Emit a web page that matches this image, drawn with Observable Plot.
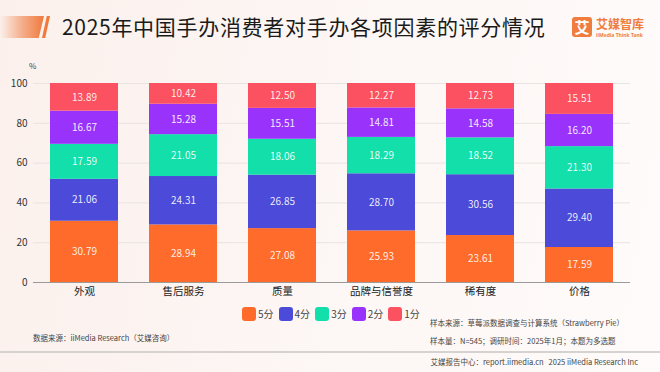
<!DOCTYPE html>
<html>
<head>
<meta charset="utf-8">
<script src="https://cdn.jsdelivr.net/npm/d3@7"></script>
<script src="https://cdn.jsdelivr.net/npm/@observablehq/plot@0.6"></script>
<style>
  html, body { margin: 0; padding: 0; }
  body { width: 660px; height: 372px; overflow: hidden; position: relative;
    font-family: "Noto Sans CJK SC", "Noto Sans", sans-serif;
    background: linear-gradient(100deg, #fbf0ec 0%, #fdf7f5 55%, #fefbfa 100%); }
  .abs { position: absolute; white-space: nowrap; }
  #title { left: 62px; top: 10px; font-size: 21px; font-weight: 400; color: #1a1a1a; line-height: 32px; letter-spacing: 0.7px; }
  #bar1 { left: 0; top: 16px; width: 44px; height: 22px;
    background: linear-gradient(90deg, rgba(240,120,60,0) 0%, rgba(240,120,60,0.55) 50%, #ef7a3c 100%);
    clip-path: polygon(0 0, 100% 0, 88% 100%, 0 100%); }
  #bar2 { left: 42px; top: 16px; width: 8px; height: 22px; background: #ef7a3c;
    clip-path: polygon(60% 0, 100% 0, 40% 100%, 0 100%); }
  #logo { left: 572px; top: 17px; width: 20px; height: 20px; background: #f07d3e; border-radius: 3px;
    color: #fff; font-size: 15px; font-weight: 700; line-height: 20px; text-align: center; }
  #logoT { left: 596px; top: 16px; font-size: 12px; font-weight: 700; color: #f07d3e; line-height: 16px; }
  #logoS { left: 596px; top: 32px; font-size: 5px; color: #f07d3e; line-height: 6px; font-family: "Noto Sans", sans-serif; font-weight: 700; }
  #pct { left: 29px; top: 60px; font-size: 8px; color: #444; }
  #legend { left: 242px; top: 306px; display: flex; gap: 0; font-size: 10px; color: #444; }
  .li { display: flex; align-items: center; margin-right: 5px; }
  .sw { width: 14px; height: 14px; border-radius: 3px; margin-right: 2px; }
  .note { font-size: 7.5px; color: #444; line-height: 10px; }
  #sep { left: 0; top: 351px; width: 660px; height: 2px; background: #d6d2d0; }
</style>
</head>
<body>
<div id="bar1" class="abs"></div>
<div id="bar2" class="abs"></div>
<div id="title" class="abs">2025年中国手办消费者对手办各项因素的评分情况</div>
<div id="logo" class="abs">艾</div>
<div id="logoT" class="abs">艾媒智库</div>
<div id="logoS" class="abs">iiMedia Think Tank</div>
<div id="pct" class="abs">%</div>
<div id="chart" class="abs" style="left:0;top:0;"></div>
<div id="legend" class="abs"></div>
<div class="abs note" style="left:430px;top:318px;">样本来源：草莓派数据调查与计算系统（Strawberry Pie）</div>
<div class="abs note" style="left:430px;top:336px;">样本量：N=545；调研时间：2025年1月；本题为多选题</div>
<div class="abs note" style="left:33px;top:333px;">数据来源：iiMedia Research（艾媒咨询）</div>
<div id="sep" class="abs"></div>
<div class="abs note" style="right:22px;top:357px;">艾媒报告中心：report.iimedia.cn&nbsp;&nbsp;&nbsp;2025 iiMedia Research Inc</div>
<script>
const categories = ["外观", "售后服务", "质量", "品牌与信誉度", "稀有度", "价格"];
const series = ["5分", "4分", "3分", "2分", "1分"];
const colors = ["#ff6b2a", "#4b4ad9", "#12dfa9", "#9933fb", "#fb5160"];
const score5 = [30.79, 28.94, 27.08, 25.93, 23.61, 17.59];
const score4 = [21.06, 24.31, 26.85, 28.70, 30.56, 29.40];
const score3 = [17.59, 21.05, 18.06, 18.29, 18.52, 21.30];
const score2 = [16.67, 15.28, 15.51, 14.81, 14.58, 16.20];
const score1 = [13.89, 10.42, 12.50, 12.27, 12.73, 15.51];
const yTicks = [0, 20, 40, 60, 80, 100];

const values = [score5, score4, score3, score2, score1];
const data = [];
categories.forEach((c, i) => {
  series.forEach((s, j) => data.push({ cat: c, score: s, v: values[j][i] }));
});

const chart = Plot.plot({
  width: 660,
  height: 372,
  marginLeft: 33,
  marginRight: 30,
  marginTop: 83,
  marginBottom: 90,
  style: { background: "transparent", fontFamily: "'Noto Sans CJK SC', 'Noto Sans', sans-serif" },
  x: { domain: categories, paddingInner: 0.31, paddingOuter: 0.155, label: null },
  y: { domain: [0, 100], label: null },
  color: { domain: series, range: colors },
  marks: [
    Plot.gridY(yTicks.filter(d => d > 0), { stroke: "#e9e3e1", strokeOpacity: 1 }),
    Plot.axisY(yTicks, { tickSize: 0, tickPadding: 6, fontSize: 10, fill: "#333", label: null }),
    Plot.axisX({ tickSize: 0, tickPadding: 5, fontSize: 10.5, fill: "#222", label: null }),
    Plot.barY(data, { x: "cat", y: "v", fill: "score", order: series }),
    Plot.text(data, Plot.stackY({ x: "cat", y: "v", z: "score", order: series, text: d => d.v.toFixed(2), fill: "#fff", fillOpacity: 0.9, fontSize: 10 })),
    Plot.ruleY([0], { stroke: "#9a9a9a", strokeWidth: 1 })
  ]
});
document.getElementById("chart").appendChild(chart);

const legend = document.getElementById("legend");
series.forEach((s, j) => {
  const li = document.createElement("div");
  li.className = "li";
  li.innerHTML = `<span class="sw" style="background:${colors[j]}"></span><span>${s}</span>`;
  legend.appendChild(li);
});
</script>
</body>
</html>
